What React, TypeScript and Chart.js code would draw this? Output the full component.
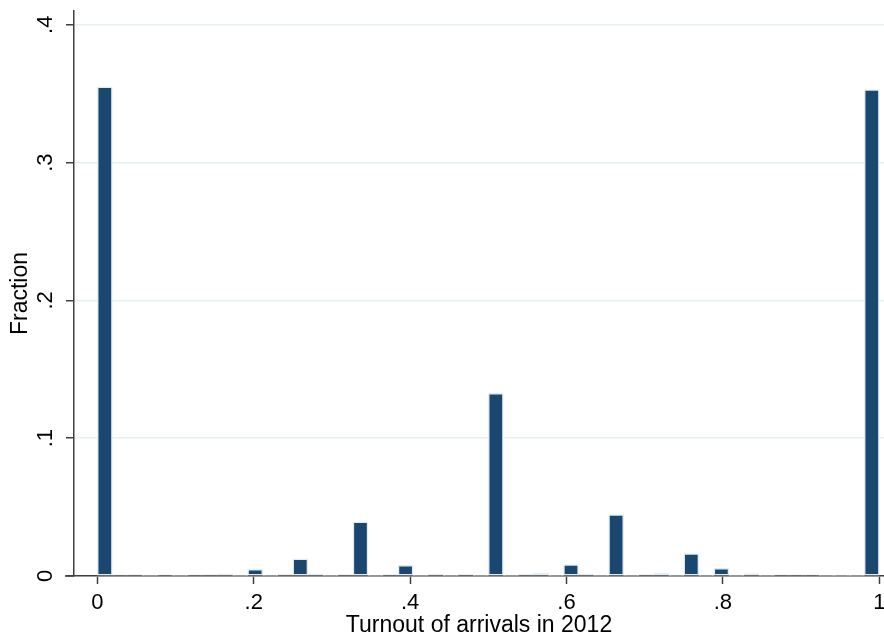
import React, { useEffect, useRef } from "react";
import { Chart, registerables } from "chart.js";

Chart.register(...registerables);

// Histogram: 52 equal-width bins on [0, 1]
const binLow = 0;
const binHigh = 1;
const binCount = 52;

const fractions = [
  0.355, 0.0008, 0.001, 0.0005, 0.0008, 0.0005, 0.0008, 0.001, 0.0015, 0.0005,
  0.0048, 0.0005, 0.0012, 0.0125, 0.0015, 0.0005, 0.001, 0.0393, 0.0005, 0.001,
  0.0077, 0.0005, 0.0015, 0.0005, 0.0012, 0.0005, 0.1325, 0.0005, 0.0012, 0.002,
  0.0005, 0.0083, 0.0015, 0.0005, 0.0445, 0.0005, 0.001, 0.002, 0.0005, 0.0162,
  0.0005, 0.0055, 0.0005, 0.0018, 0.0005, 0.0008, 0.0008, 0.0008, 0.0005, 0.0005,
  0.0005, 0.353,
];

const xTickValues = [0, 0.2, 0.4, 0.6, 0.8, 1];
const xTickLabels = ["0", ".2", ".4", ".6", ".8", "1"];
const yTickValues = [0, 0.1, 0.2, 0.3, 0.4];
const yTickLabels = ["0", ".1", ".2", ".3", ".4"];

const xTitle = "Turnout of arrivals in 2012";
const yTitle = "Fraction";

const FONT = "'Liberation Sans', Arial, Helvetica, sans-serif";
const NAVY = "#1a476f";
const OUTLINE = "#e2ecf0";
const AXIS = "#404040";

// Stata draws the x axis line a little past the y axis on the left
const axisStub = {
  id: "axisStub",
  afterDraw(chart: any) {
    const { ctx, chartArea } = chart;
    ctx.save();
    ctx.strokeStyle = AXIS;
    ctx.lineWidth = 1.5;
    ctx.beginPath();
    ctx.moveTo(chartArea.left - 9, chartArea.bottom);
    ctx.lineTo(chartArea.left, chartArea.bottom);
    ctx.stroke();
    ctx.restore();
  },
};

export default function App() {
  const ref = useRef<HTMLCanvasElement | null>(null);

  useEffect(() => {
    document.body.style.margin = "0";
    const canvas = ref.current;
    if (!canvas) return;
    const width = (binHigh - binLow) / binCount;
    const points = fractions.map((v, i) => ({ x: binLow + (i + 0.5) * width, y: v }));

    const chart = new Chart(canvas, {
      type: "bar",
      data: {
        datasets: [
          {
            data: points as any,
            // very short bars show only their light outline, as in the Stata export
            backgroundColor: (c: any) => (c.raw && c.raw.y < 0.0025 ? OUTLINE : NAVY),
            borderColor: OUTLINE,
            borderWidth: 1.5,
            borderSkipped: false as any,
            barPercentage: 1,
            categoryPercentage: 1,
          },
        ],
      },
      options: {
        animation: false,
        responsive: false,
        devicePixelRatio: 1,
        layout: { padding: { top: 11, right: 0, bottom: 0, left: 0 } },
        plugins: { legend: { display: false }, tooltip: { enabled: false } },
        scales: {
          x: {
            type: "linear",
            offset: false,
            min: -0.0298,
            max: 1.006,
            afterBuildTicks: (scale: any) => {
              scale.ticks = xTickValues.map((v) => ({ value: v }));
            },
            afterFit: (scale: any) => {
              scale.height = 63;
              scale.paddingLeft = 0;
              scale.paddingRight = 0;
            },
            ticks: {
              autoSkip: false,
              maxRotation: 0,
              minRotation: 0,
              padding: 6,
              color: "#000",
              font: { family: FONT, size: 22 },
              callback: (value: any) => {
                const i = xTickValues.findIndex((t) => Math.abs(t - Number(value)) < 1e-9);
                return i >= 0 ? xTickLabels[i] : "";
              },
            },
            grid: {
              display: true,
              drawOnChartArea: false,
              drawTicks: true,
              tickLength: 8,
              tickColor: AXIS,
              tickWidth: 1.5,
              offset: false,
            },
            border: { display: true, color: AXIS, width: 1.5 },
            title: {
              display: true,
              text: xTitle,
              color: "#000",
              font: { family: FONT, size: 23 },
              padding: { top: 0, bottom: 0 },
            },
          },
          y: {
            type: "linear",
            min: 0,
            max: 0.41,
            afterBuildTicks: (scale: any) => {
              scale.ticks = yTickValues.map((v) => ({ value: v }));
            },
            afterFit: (scale: any) => {
              scale.width = 74;
              scale.paddingTop = 0;
              scale.paddingBottom = 0;
            },
            ticks: {
              autoSkip: false,
              minRotation: 90,
              maxRotation: 90,
              crossAlign: "center",
              padding: 11,
              color: "#000",
              font: { family: FONT, size: 22 },
              callback: (value: any) => {
                const i = yTickValues.findIndex((t) => Math.abs(t - Number(value)) < 1e-9);
                return i >= 0 ? yTickLabels[i] : "";
              },
            },
            grid: {
              display: true,
              drawOnChartArea: true,
              color: "#e6eff1",
              lineWidth: 1.5,
              drawTicks: true,
              tickLength: 8,
              tickColor: AXIS,
              tickWidth: 1.5,
            },
            border: { display: true, color: AXIS, width: 1.5 },
            title: {
              display: true,
              text: yTitle,
              color: "#000",
              font: { family: FONT, size: 23 },
              padding: { top: 7, bottom: 0 },
            },
          },
        },
      },
      plugins: [axisStub],
    });
    return () => chart.destroy();
  }, []);

  return (
    <div style={{ position: "absolute", left: 0, top: 0, width: 884, height: 639, background: "#fff" }}>
      <canvas ref={ref} width={884} height={639} style={{ display: "block" }} />
    </div>
  );
}
